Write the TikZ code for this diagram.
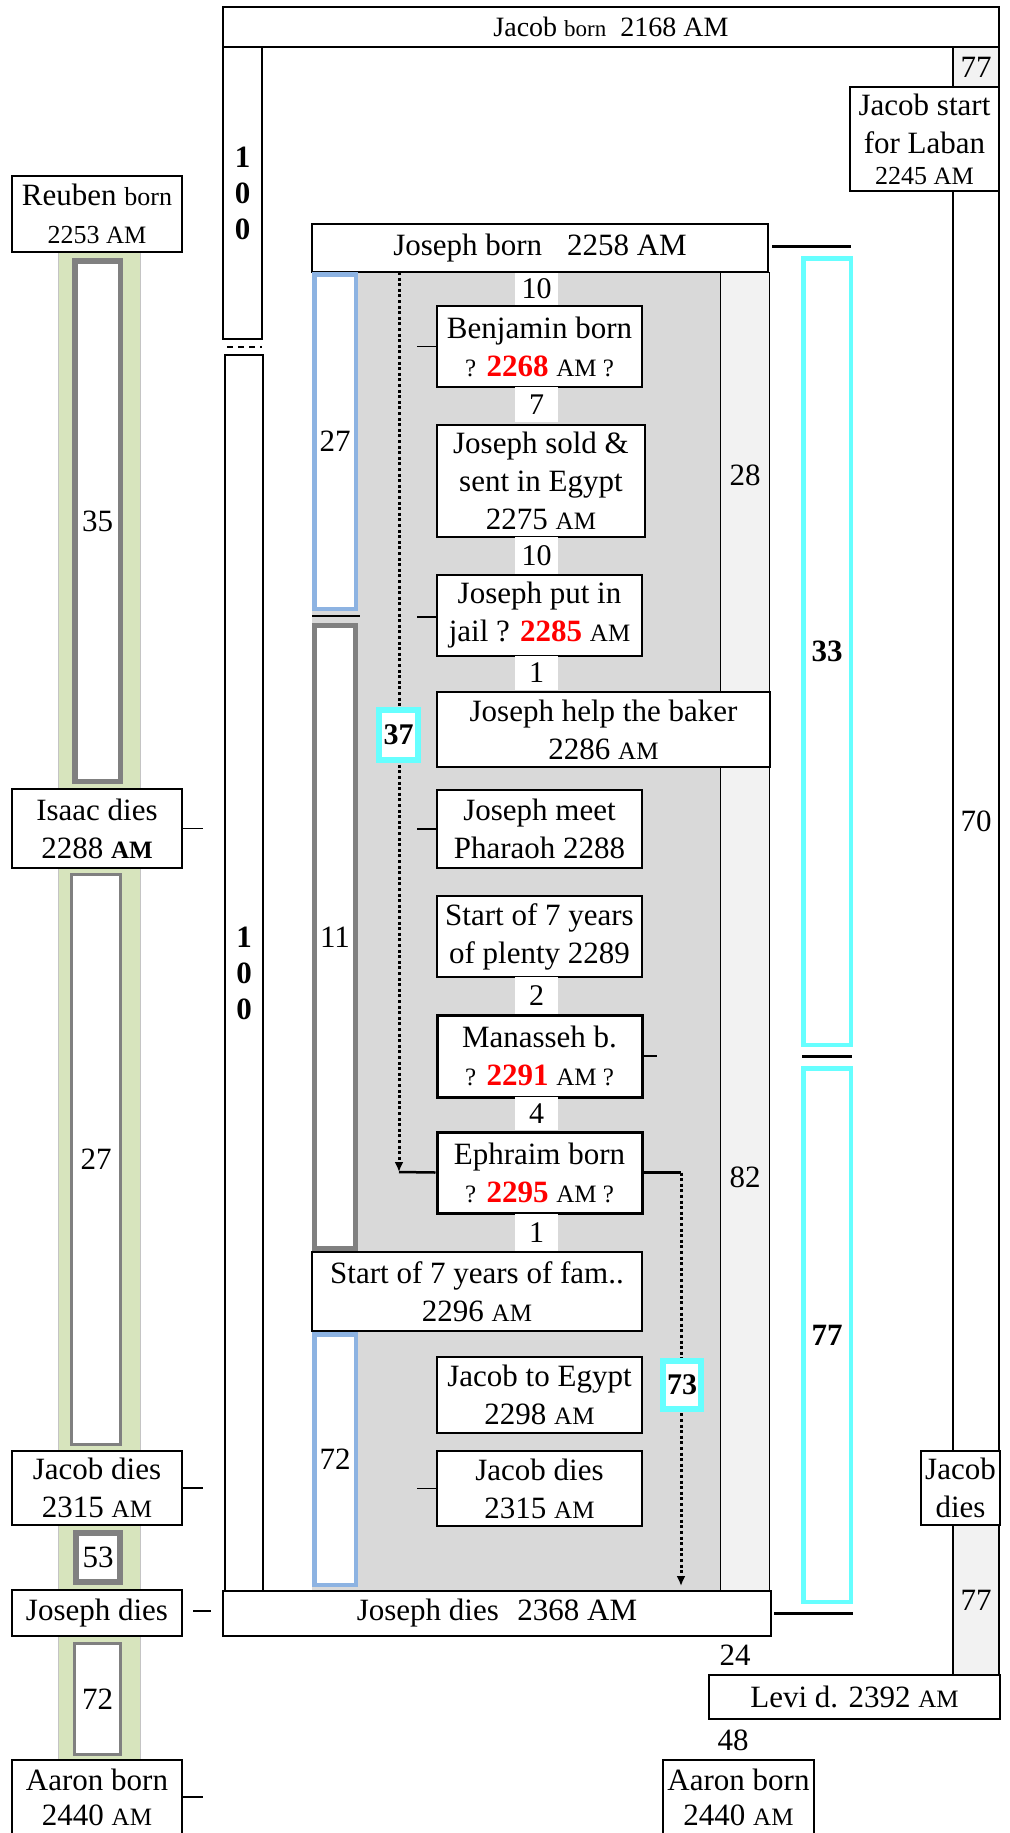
\documentclass[tikz,border=0pt]{standalone}
\usepackage{fontspec}
\setmainfont{Liberation Serif}
\usetikzlibrary{arrows.meta}
\definecolor{grn}{HTML}{D7E4BD}
\definecolor{grnedge}{HTML}{C4C4C4}
\definecolor{gbar}{HTML}{808080}
\definecolor{bbar}{HTML}{8DB3E2}
\definecolor{cy}{HTML}{66FFFF}
\definecolor{area}{HTML}{D9D9D9}
\definecolor{light}{HTML}{F2F2F2}
\newcommand{\sm}[1]{{\fontsize{25}{30}\selectfont #1}}
\newcommand{\md}[1]{{\fontsize{26}{30}\selectfont #1}}
\newcommand{\rd}[1]{\textcolor{red}{\textbf{#1}}}
\begin{document}
\begin{tikzpicture}[x=1pt,y=-1pt,
  box/.style={draw=black, line width=1.5pt, fill=white, align=center, inner sep=0pt, font=\fontsize{31}{38}\selectfont},
  thickbox/.style={box, line width=3pt},
  num/.style={inner sep=0pt, font=\fontsize{31}{31}\selectfont},
  numbg/.style={inner sep=0pt, fill=white, minimum width=43, font=\fontsize{30}{30}\selectfont},
  graybar/.style={draw=gbar, fill=white, inner sep=0pt, font=\fontsize{31}{31}\selectfont},
  bluebar/.style={draw=bbar, line width=4.5pt, fill=white, inner sep=0pt, font=\fontsize{31}{31}\selectfont},
  cybar/.style={draw=cy, line width=4.5pt, fill=white, inner sep=0pt, font=\bfseries\fontsize{31}{31}\selectfont},
  cybox/.style={draw=cy, line width=6pt, fill=white, inner sep=0pt, font=\bfseries\fontsize{30}{30}\selectfont},
  hundred/.style={box, font=\bfseries\fontsize{31}{36}\selectfont},
  tick/.style={line width=1.5pt},
  thtick/.style={line width=3pt},
  dots/.style={line width=3pt, dash pattern=on 3pt off 2.6pt},
  tipdown/.style={-{Latex[length=10pt,width=9pt]}}
]
\useasboundingbox (0,0) rectangle (1009,1833);

% ---------- left column ----------
\node[fill=grn, draw=grnedge, line width=1pt, minimum width=82, minimum height=1507, inner sep=0pt] (band) at (99,1005.5) {};
\node[graybar, line width=5.5pt, minimum width=45.5, minimum height=520.5] (b35) at (97.5,521) {35};
\node[graybar, line width=3pt, minimum width=49, minimum height=570] (b27L) at (96,1159.5) {27};
\node[graybar, line width=6pt, minimum width=44, minimum height=49] (b53) at (98,1557.5) {53};
\node[graybar, line width=3pt, minimum width=46, minimum height=111] (b72L) at (97.5,1699) {72};

\node[box, minimum width=170, minimum height=76] (reuben) at (97,214) {Reuben \md{born}\\\md{2253 \sm{AM}}};
\node[box, minimum width=170, minimum height=79] (isaac) at (97,828.5) {Isaac dies\\2288 \textbf{\sm{AM}}};
\node[box, minimum width=170, minimum height=74] (jdiesL) at (97,1488) {Jacob dies\\2315 \sm{AM}};
\node[box, minimum width=170, minimum height=46] (josdiesL) at (97,1613) {Joseph dies};
\node[box, minimum width=170, minimum height=74] (aaronL) at (97,1797) {Aaron born\\[-3pt]2440 \sm{AM}};

\coordinate (t1) at (203,828.5);
\coordinate (t2) at (203,1488);
\coordinate (t3a) at (193,1611);
\coordinate (t3b) at (211,1611);
\coordinate (t4) at (203,1797);
\draw[tick] (isaac.east) -- (t1);
\draw[tick] (jdiesL.east) -- (t2);
\draw[tick] (t3a) -- (t3b);
\draw[tick] (aaronL.east) -- (t4);

% ---------- centre area ----------
\node[fill=area, minimum width=408, minimum height=1319, inner sep=0pt] (area) at (516,931.5) {};
\node[box, fill=light, line width=1pt, minimum width=49, minimum height=1319] (col) at (744.5,931.5) {};
\node[num] (n28) at (745,475) {28};
\node[num] (n82) at (745,1177) {82};

\node[hundred, minimum width=39, minimum height=292] (bar100a) at (242.5,193) {1\\0\\0};
\node[hundred, minimum width=38, minimum height=1236] (bar100b) at (244,973) {1\\0\\0};
\coordinate (d1) at (227,347);
\coordinate (d2) at (262,347);
\draw[line width=1.2pt, dash pattern=on 6pt off 5pt] (d1) -- (d2);

\node[box, minimum width=776, minimum height=40, font=\fontsize{28}{32}\selectfont] (hdr) at (611,27) {Jacob {\fontsize{23}{23}\selectfont born}\ \ 2168 AM};
\node[box, minimum width=456, minimum height=48] (josborn) at (540,248) {Joseph born\hspace{0.8em}2258 AM};

\node[bluebar, minimum width=41.5, minimum height=334.5] (blue27) at (335,441.5) {27};
\coordinate (s1) at (312,616);
\coordinate (s2) at (360,616);
\draw[tick] (s1) -- (s2);
\node[graybar, line width=5pt, minimum width=41, minimum height=623] (gray11) at (335,937) {11};
\node[box, minimum width=330, minimum height=79] (startfam) at (477,1291.5) {Start of 7 years of fam..\\2296 \sm{AM}};
\node[bluebar, minimum width=41.5, minimum height=250.5] (blue72) at (335,1459.5) {72};

% dotted arrows
\coordinate (da1) at (399,272);
\coordinate (da2) at (399,1172);
\draw[dots, tipdown] (da1) -- (da2);

% events
\node[box, minimum width=205, minimum height=81] (benj) at (539.5,346.5) {Benjamin born\\\sm{?} \rd{2268} \sm{AM ?}};
\node[box, minimum width=208, minimum height=112] (sold) at (541,481) {Joseph sold \&\\sent in Egypt\\2275 \sm{AM}};
\node[box, minimum width=205, minimum height=81] (jail) at (539.5,615.5) {Joseph put in\\jail ? \rd{2285} \sm{AM}};
\node[box, minimum width=333, minimum height=75] (baker) at (603.5,729.5) {Joseph help the baker\\2286 \sm{AM}};
\node[box, minimum width=205, minimum height=78] (pharaoh) at (539.5,829) {Joseph meet\\Pharaoh 2288};
\node[box, minimum width=205, minimum height=81] (plenty) at (539.5,936.5) {Start of 7 years\\of plenty 2289};
\node[thickbox, minimum width=205, minimum height=82] (manasseh) at (539.5,1056) {Manasseh b.\\\sm{?} \rd{2291} \sm{AM ?}};
\node[thickbox, minimum width=205, minimum height=81] (ephraim) at (539.5,1172.5) {Ephraim born\\\sm{?} \rd{2295} \sm{AM ?}};
\node[box, minimum width=205, minimum height=76] (toegypt) at (539.5,1395) {Jacob to Egypt\\2298 \sm{AM}};
\node[box, minimum width=205, minimum height=75] (jdiesC) at (539.5,1488.5) {Jacob dies\\2315 \sm{AM}};

\node[numbg, minimum height=32] (g1) at (536.5,289) {10};
\node[numbg, minimum height=35] (g2) at (536.5,404.5) {7};
\node[numbg, minimum height=37] (g3) at (536.5,555.5) {10};
\node[numbg, minimum height=34] (g4) at (536.5,673) {1};
\node[numbg, minimum height=37] (g5) at (536.5,995.5) {2};
\node[numbg, minimum height=33] (g6) at (536.5,1113.5) {4};
\node[numbg, minimum height=37] (g7) at (536.5,1232.5) {1};

\coordinate (k1) at (417,346.5);
\coordinate (k2) at (417,617);
\coordinate (k3) at (417,829);
\coordinate (k4) at (417,1488.5);
\coordinate (k5) at (657,1056);
\draw[tick] (benj.west) -- (k1);
\draw[tick] (jail.west |- k2) -- (k2);
\draw[tick] (pharaoh.west) -- (k3);
\draw[tick] (jdiesC.west) -- (k4);
\draw[line width=2.5pt] (manasseh.east) -- (k5);
\draw[line width=2.5pt] (ephraim.west) -- (da2);

\coordinate (eb) at (681,1172.5);
\coordinate (eb2) at (681,1586);
\draw[line width=2.5pt] (ephraim.east) -- (eb);
\draw[dots, tipdown] (eb) -- (eb2);

\node[cybox, minimum width=39, minimum height=50] (b37) at (398.5,735) {37};
\node[cybox, minimum width=38, minimum height=48] (b73) at (682,1385) {73};

\node[box, minimum width=548, minimum height=45] (josdiesB) at (497,1613.5) {Joseph dies\hspace{0.6em}2368 AM};

% ---------- cyan bars ----------
\node[cybar, minimum width=47.5, minimum height=786.5] (cy33) at (827,651.5) {33};
\node[cybar, minimum width=47.5, minimum height=533.5] (cy77) at (827,1335) {77};
\coordinate (c1) at (802,1056);
\coordinate (c2) at (852,1056);
\draw[thtick] (c1) -- (c2);
\coordinate (j1) at (772,246);
\coordinate (j2) at (851,246);
\draw[thtick] (j1) -- (j2);
\coordinate (j3) at (774,1613);
\coordinate (j4) at (853,1613);
\draw[thtick] (j3) -- (j4);

% ---------- right column ----------
\node[box, fill=light, minimum width=46, minimum height=40] (r77a) at (976,67) {77};
\node[box, minimum width=149, minimum height=104] (laban) at (924.5,139) {Jacob start\\for Laban\\[-7pt]\md{2245 \sm{AM}}};
\node[box, minimum width=46, minimum height=1260] (rbar1) at (976,821) {70};
\node[box, minimum width=79, minimum height=74] (jdiesR) at (960.5,1488) {Jacob\\dies};
\node[box, fill=light, minimum width=46, minimum height=150] (rbar2) at (976,1600) {77};
\node[box, minimum width=291, minimum height=44] (levi) at (854.5,1697) {Levi d. 2392 \sm{AM}};
\node[num] (n24) at (735,1655) {24};
\node[num] (n48) at (733,1740) {48};
\node[box, minimum width=151, minimum height=74] (aaronR) at (738.5,1797) {Aaron born\\[-3pt]2440 \sm{AM}};
\end{tikzpicture}
\end{document}
